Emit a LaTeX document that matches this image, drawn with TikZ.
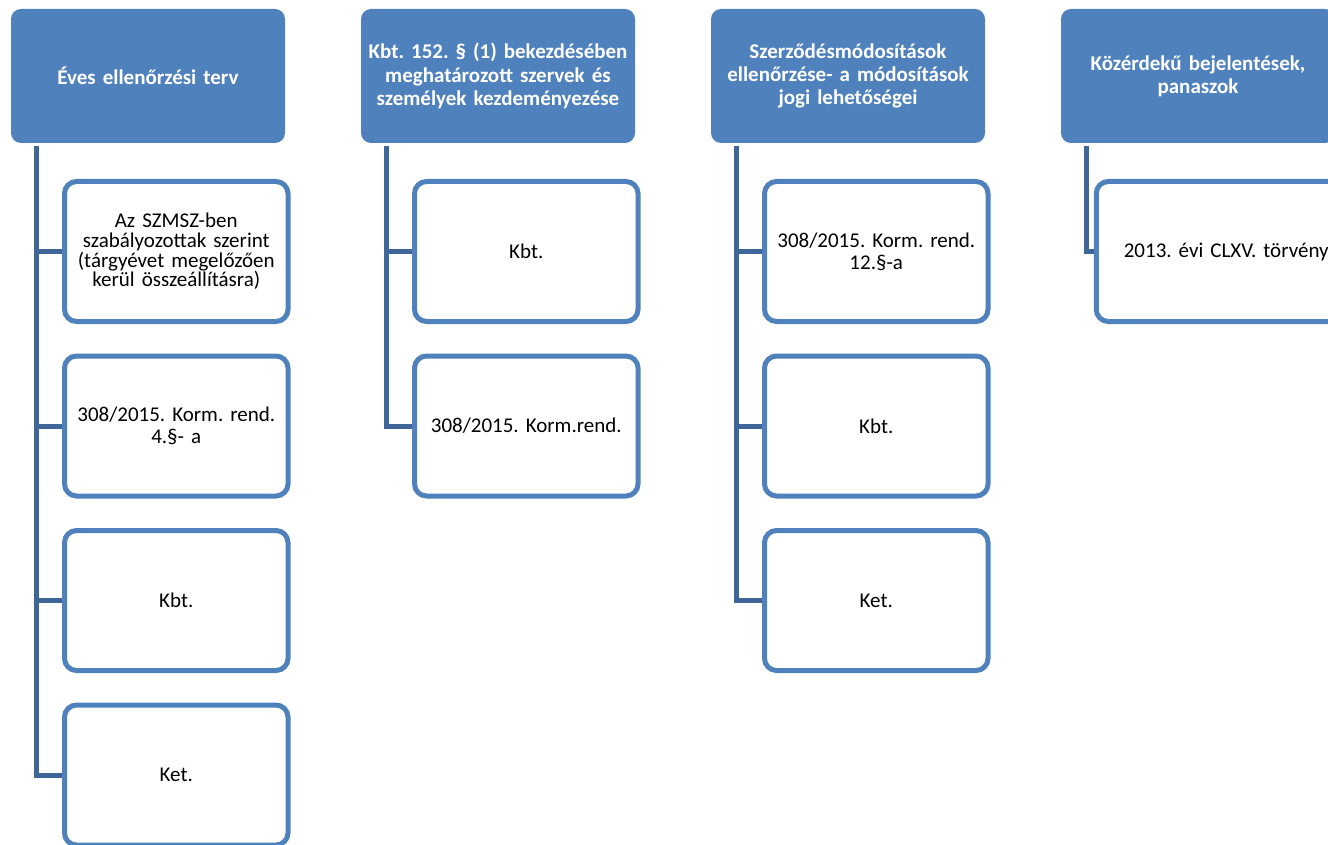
\documentclass[tikz,border=0pt]{standalone}
\usepackage{fontspec}
\setmainfont{Carlito}
\frenchspacing
\definecolor{acc}{HTML}{4F81BD}
\definecolor{conn}{HTML}{3F6699}
\begin{document}
\begin{tikzpicture}[x=1pt,y=-1pt,
  headbox/.style={rectangle,rounded corners=10pt,fill=acc,draw=none,
    minimum width=274pt,minimum height=134pt,text width=272pt,align=center,
    text=white,font=\fontsize{21}{23.3}\selectfont\bfseries\frenchspacing,inner sep=0pt},
  childbox/.style={rectangle,rounded corners=12pt,fill=white,draw=acc,line width=5pt,
    minimum width=223.5pt,minimum height=140pt,text width=218pt,align=center,
    text=black,font=\fontsize{21}{21.7}\selectfont\frenchspacing,inner sep=0pt},
  link/.style={draw=conn,line width=5pt}]
\useasboundingbox (0,0) rectangle (1328,845);

% column 1
\node[headbox] (h1) at (148,76) {Éves ellenőrzési terv};
\coordinate (s1) at (36,146);
\node[childbox,font=\fontsize{21}{19.7}\selectfont\frenchspacing] (a1) at (176.25,251.5) {Az SZMSZ-ben\\szabályozottak szerint\\(tárgyévet megelőzően\\kerül összeállításra)};
\node[childbox] (a2) at (176.25,426) {308/2015. Korm. rend.\\4.§- a};
\node[childbox] (a3) at (176.25,600.5) {Kbt.};
\node[childbox] (a4) at (176.25,775) {Ket.};
\foreach \c in {a1,a2,a3,a4} \draw[link] (s1) |- (\c.west);

% column 2
\node[headbox] (h2) at (498,76) {Kbt. 152. § (1) bekezdésében\\meghatározott szervek és\\személyek kezdeményezése};
\coordinate (s2) at (386,146);
\node[childbox] (b1) at (526.25,251.5) {Kbt.};
\node[childbox] (b2) at (526.25,426) {308/2015. Korm.rend.};
\foreach \c in {b1,b2} \draw[link] (s2) |- (\c.west);

% column 3
\node[headbox] (h3) at (848,76) {Szerződésmódosítások\\ellenőrzése- a módosítások\\jogi lehetőségei};
\coordinate (s3) at (736,146);
\node[childbox] (c1) at (876.25,251.5) {308/2015. Korm. rend.\\12.§-a};
\node[childbox] (c2) at (876.25,426) {Kbt.};
\node[childbox] (c3) at (876.25,600.5) {Ket.};
\foreach \c in {c1,c2,c3} \draw[link] (s3) |- (\c.west);

% column 4
\node[headbox] (h4) at (1198,76) {Közérdekű bejelentések,\\panaszok};
\coordinate (s4) at (1086,146);
\node[childbox,text width=260pt] (d1) at (1226.25,251.5) {2013. évi CLXV. törvény};
\draw[link] (s4) |- (d1.west);
\end{tikzpicture}
\end{document}
